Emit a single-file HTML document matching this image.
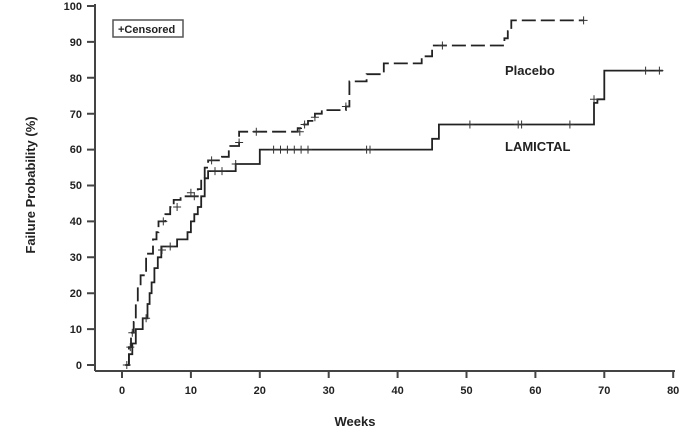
<!DOCTYPE html>
<html><head><style>body{margin:0;background:#fff}svg{display:block}</style></head><body>
<svg width="697" height="439" xmlns="http://www.w3.org/2000/svg" font-family="Liberation Sans, sans-serif" font-weight="bold">
<g stroke="#444" stroke-width="2" fill="none">
<line x1="95" y1="4" x2="95" y2="371"/>
<line x1="95" y1="371" x2="675" y2="371"/>
<path d="M87 365H95M87 329.1H95M87 293.2H95M87 257.3H95M87 221.4H95M87 185.5H95M87 149.6H95M87 113.7H95M87 77.8H95M87 41.9H95M87 6H95"/>
<path d="M122 371V378M190.9 371V378M259.8 371V378M328.7 371V378M397.6 371V378M466.5 371V378M535.4 371V378M604.3 371V378M673.2 371V378"/>
</g>
<g font-size="11" fill="#222" text-anchor="end">
<text x="82" y="369">0</text><text x="82" y="333">10</text><text x="82" y="297">20</text><text x="82" y="261">30</text><text x="82" y="225">40</text><text x="82" y="189">50</text><text x="82" y="153">60</text><text x="82" y="118">70</text><text x="82" y="82">80</text><text x="82" y="46">90</text><text x="82" y="10">100</text>
</g>
<g font-size="11" fill="#222" text-anchor="middle">
<text x="122" y="394">0</text><text x="190.9" y="394">10</text><text x="259.8" y="394">20</text><text x="328.7" y="394">30</text><text x="397.6" y="394">40</text><text x="466.5" y="394">50</text><text x="535.4" y="394">60</text><text x="604.3" y="394">70</text><text x="673.2" y="394">80</text>
</g>
<text x="355" y="426" font-size="13" text-anchor="middle" fill="#222">Weeks</text>
<text transform="translate(35,185) rotate(-90)" font-size="13" text-anchor="middle" fill="#222">Failure Probability (%)</text>
<rect x="113" y="20" width="70" height="17" fill="#fff" stroke="#555" stroke-width="1.5"/>
<text x="118" y="33" font-size="11" fill="#222">+Censored</text>
<text x="505" y="75" font-size="13" fill="#222">Placebo</text>
<text x="505" y="151" font-size="13" fill="#222">LAMICTAL</text>
<path fill="none" stroke="#222" stroke-width="1.8" d="M125.4 365H128.9V354.2H132.3V343.5H135.8V329.1H142.7V318.3H147.5V304H149.6V293.2H151.6V282.4H154.4V268.1H157.8V257.3H161.3V246.5H177.1V239.4H187.5V232.2H190.9V221.4H194.3V214.2H197.8V207H201.2V196.3H204.7V178.3H208.1V171.1H235.7V164H259.8V149.6H432.1V138.8H438.9V124.5H594V102.9H597.4V99.3H604.3V70.6H662.9"/>
<path fill="none" stroke="#222" stroke-width="1.8" stroke-dasharray="14,5" d="M125.4 365H128.9V347.1H131V332.7H133.7V321.9H135.8V304H137.8V286H140.6V275.3H146.1V253.7H153V239.4H156.5V232.2H158.5V221.4H165.4V214.2H170.2V207H173.7V199.9H180.6V196.3H197.8V189.1H201.2V178.3H204.7V167.6H208.1V160.4H221.9V156.8H228.8V146H239.1V131.7H297.7V128.1H301.1V124.5H308V120.9H314.9V113.7H321.8V110.1H345.9V106.5H349.4V81.4H366.6V74.2H383.8V63.4H421.7V56.3H432.1V45.5H504.4V38.3H507.8V31.1H511.3V20.4H583.6"/>
<g fill="none" stroke="#333" stroke-width="1">
<path d="M122.8 365h8M126.8 361v8M128.3 332.7h8M132.3 328.7v8M142.1 318.3h8M146.1 314.3v8M158 250h8M162 246v8M166.2 246.5h8M170.2 242.5v8M190.3 196.3h8M194.3 192.3v8M211 171.1h8M215 167.1v8M218 171.1h8M222 167.1v8M231.7 164h8M235.7 160v8M269.6 149.6h8M273.6 145.6v8M276.5 149.6h8M280.5 145.6v8M283.4 149.6h8M287.4 145.6v8M290.3 149.6h8M294.3 145.6v8M297.1 149.6h8M301.1 145.6v8M304 149.6h8M308 145.6v8M362.6 149.6h8M366.6 145.6v8M366 149.6h8M370 145.6v8M465.9 124.5h8M469.9 120.5v8M514.2 124.5h8M518.2 120.5v8M517.6 124.5h8M521.6 120.5v8M565.9 124.5h8M569.9 120.5v8M590 99.3h8M594 95.3v8M641.6 70.6h8M645.6 66.6v8M655.4 70.6h8M659.4 66.6v8"/>
<path d="M159.3 221.4h8M163.3 217.4v8M173.1 207h8M177.1 203v8M186.9 192.7h8M190.9 188.7v8M207.6 160.4h8M211.6 156.4v8M235.1 142.5h8M239.1 138.5v8M252.3 131.7h8M256.3 127.7v8M295.8 131.7h8M299.8 127.7v8M300.6 124.5h8M304.6 120.5v8M310.9 117.3h8M314.9 113.3v8M341.9 106.5h8M345.9 102.5v8M438.4 45.5h8M442.4 41.5v8M579.6 20.4h8M583.6 16.4v8M126.3 347.1h8M130.3 343.1v8"/>
</g>
</svg>
</body></html>
